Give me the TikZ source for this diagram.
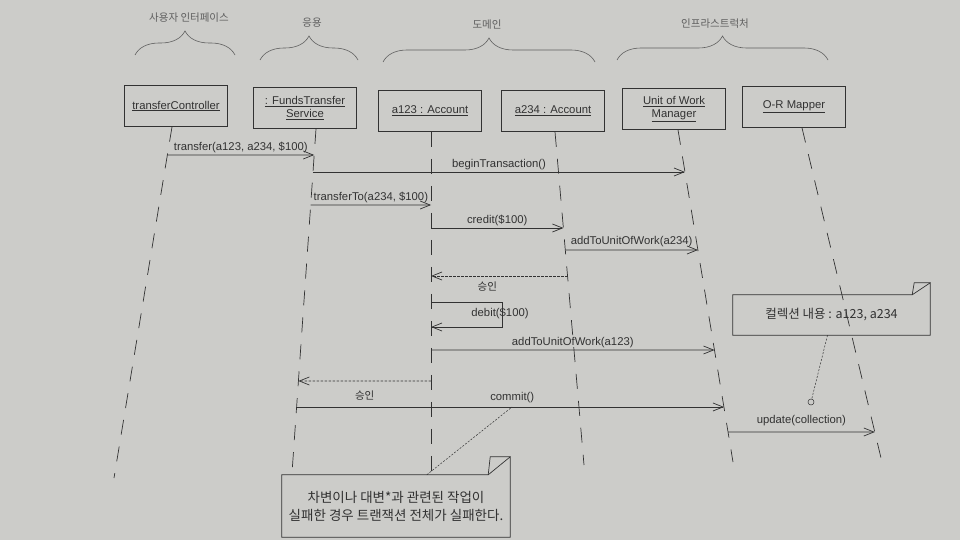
\documentclass[tikz,border=0pt]{standalone}
\usepackage{fontspec}
\setmainfont{Liberation Sans}
\newfontfamily\kr{Noto Sans CJK KR}
\usetikzlibrary{arrows.meta,decorations.pathreplacing}
\definecolor{paper}{RGB}{204,204,201}
\definecolor{ink}{RGB}{50,50,50}
\definecolor{lite}{RGB}{95,95,95}
\newcommand\mpt[3]{\coordinate (#1) at (intersection of #2T--#2B and 0,#3--960,#3);}
\begin{document}
\begin{tikzpicture}[x=1pt,y=-1pt,
  obj/.style={draw=ink, line width=0.7pt, minimum width=103pt, minimum height=41pt,
    align=center, font=\fontsize{11.3}{13}\selectfont, text=ink, inner sep=1pt},
  life/.style={draw=ink, line width=0.7pt, dash pattern=on 15pt off 12pt},
  msg/.style={draw=ink, line width=0.7pt, -{Straight Barb[length=10pt,width=8pt]}},
  ret/.style={msg, dash pattern=on 2.5pt off 1.5pt},
  lbl/.style={font=\fontsize{11.3}{13}\selectfont, text=ink, inner sep=1pt},
  klbl/.style={font=\kr\fontsize{10.5}{12}\selectfont, text=ink, inner sep=1pt},
  grp/.style={draw=lite, line width=0.6pt, decorate, decoration={brace, amplitude=24pt}},
  hdr/.style={font=\kr\fontsize{10.5}{12}\selectfont, text=lite},
  notebox/.style={draw=ink, line width=0.7pt},
  notelink/.style={draw=ink, line width=0.5pt, dash pattern=on 2pt off 1.5pt}
]
\fill[paper] (0,0) rectangle (960,540);
\useasboundingbox (0,0) rectangle (960,540);

% group headers
\node[hdr] (h1) at (189,18) {사용자 인터페이스};
\node[hdr] (h2) at (312,23) {응용};
\node[hdr] (h3) at (487,25) {도메인};
\node[hdr] (h4) at (715,24) {인프라스트럭처};
\draw[grp] (135,55) -- (235,55);
\draw[grp] (260,60) -- (358,60);
\draw[grp] (383,62) -- (595,62);
\draw[grp] (617,60) -- (828,60);

% objects
\node[obj] (tc)   at (176,106) {\underline{transferController}};
\node[obj] (fts)  at (305,108) {\underline{: FundsTransfer}\\\underline{Service}};
\node[obj] (a123) at (430,111) {\underline{a123 : Account}};
\node[obj] (a234) at (553,111) {\underline{a234 : Account}};
\node[obj] (uow)  at (674,109) {\underline{Unit of Work}\\\underline{Manager}};
\node[obj] (orm)  at (794,107) {\underline{O-R Mapper}};

% lifelines
\coordinate (tcT)   at ([xshift=-4pt]tc.south);
\coordinate (ftsT)  at ([xshift=11pt]fts.south);
\coordinate (a123T) at ([xshift=1pt]a123.south);
\coordinate (a234T) at ([xshift=2pt]a234.south);
\coordinate (uowT)  at ([xshift=4pt]uow.south);
\coordinate (ormT)  at ([xshift=8pt]orm.south);
\coordinate (tcB)   at (114,478);
\coordinate (ftsB)  at (292,473);
\coordinate (a123B) at (431,475);
\coordinate (a234B) at (584,465);
\coordinate (uowB)  at (733,462);
\coordinate (ormB)  at (881,458);
\foreach \l in {tc,fts,a123,a234,uow,orm}{\draw[life] (\l T) -- (\l B);}

% messages
\mpt{m1a}{tc}{155}\mpt{m1b}{fts}{155}
\draw[msg] (m1a) -- node[lbl,above=1pt] {transfer(a123, a234, \$100)} (m1b);
\mpt{m2a}{fts}{172}\mpt{m2b}{uow}{172}
\draw[msg] (m2a) -- node[lbl,above=1pt] {beginTransaction()} (m2b);
\mpt{m3a}{fts}{205}\mpt{m3b}{a123}{205}
\draw[msg] (m3a) -- node[lbl,above=1pt] {transferTo(a234, \$100)} (m3b);
\mpt{m4a}{a123}{228}\mpt{m4b}{a234}{228}
\draw[msg] (m4a) -- node[lbl,above=1pt] {credit(\$100)} (m4b);
\mpt{m5a}{a234}{250}\mpt{m5b}{uow}{250}
\draw[msg] (m5a) -- node[lbl,above=2pt] {addToUnitOfWork(a234)} (m5b);
\mpt{m6a}{a234}{276}\mpt{m6b}{a123}{276}
\draw[ret] (m6a) -- node[klbl,below=4pt,xshift=-12pt] {승인} (m6b);
\mpt{m7a}{a123}{302}\mpt{m7b}{a123}{327}
\coordinate (d1) at (502,302);
\coordinate (d2) at (502,327);
\draw[msg] (m7a) -- (d1) -- (d2) -- (m7b);
\node[lbl] (dl) at (500,313) {debit(\$100)};
\mpt{m8a}{a123}{350}\mpt{m8b}{uow}{350}
\draw[msg] (m8a) -- node[lbl,above=1pt] {addToUnitOfWork(a123)} (m8b);
\mpt{m9a}{a123}{381}\mpt{m9b}{fts}{381}
\draw[ret] (m9a) -- node[klbl,below=8pt] {승인} (m9b);
\mpt{m10a}{fts}{407}\mpt{m10b}{uow}{407}
\draw[msg] (m10a) -- node[lbl,above=3pt,xshift=2pt] {commit()} (m10b);
\mpt{m11a}{uow}{432}\mpt{m11b}{orm}{432}
\draw[msg] (m11a) -- node[lbl,above=5pt] {update(collection)} (m11b);

% note: collection
\node[inner sep=0, minimum width=197pt, minimum height=40pt,
  font=\kr\fontsize{12.5}{14}\selectfont, text=ink] (n1) at (831.5,315) {컬렉션 내용 : a123, a234};
\draw[notebox] (n1.north west) -- ([xshift=-18pt]n1.north east) -- ([yshift=12pt]n1.north east)
  -- (n1.south east) -- (n1.south west) -- cycle;
\draw[notebox] ([xshift=-18pt]n1.north east) -- ([xshift=-16pt,yshift=12pt]n1.north east) -- ([yshift=12pt]n1.north east);
\node[circle, draw=ink, line width=0.5pt, inner sep=0, minimum size=6pt] (c1) at (811,402) {};
\draw[notelink] ([xshift=-4pt]n1.south) -- (c1);

% note: failure
\node[inner sep=0, minimum width=228pt, minimum height=62pt, align=center,
  font=\kr\fontsize{13.5}{18}\selectfont, text=ink] (n2) at (396,506)
  {차변이나 대변*과 관련된 작업이\\실패한 경우 트랜잭션 전체가 실패한다.};
\draw[notebox] (n2.north west) -- ([xshift=-22pt]n2.north east) -- ([yshift=18pt]n2.north east)
  -- (n2.south east) -- (n2.south west) -- cycle;
\draw[notebox] ([xshift=-22pt]n2.north east) -- ([xshift=-20pt,yshift=18pt]n2.north east) -- ([yshift=18pt]n2.north east);
\coordinate (cm) at (512,407);
\draw[notelink] ([xshift=145pt]n2.north west) -- (cm);
\end{tikzpicture}
\end{document}
